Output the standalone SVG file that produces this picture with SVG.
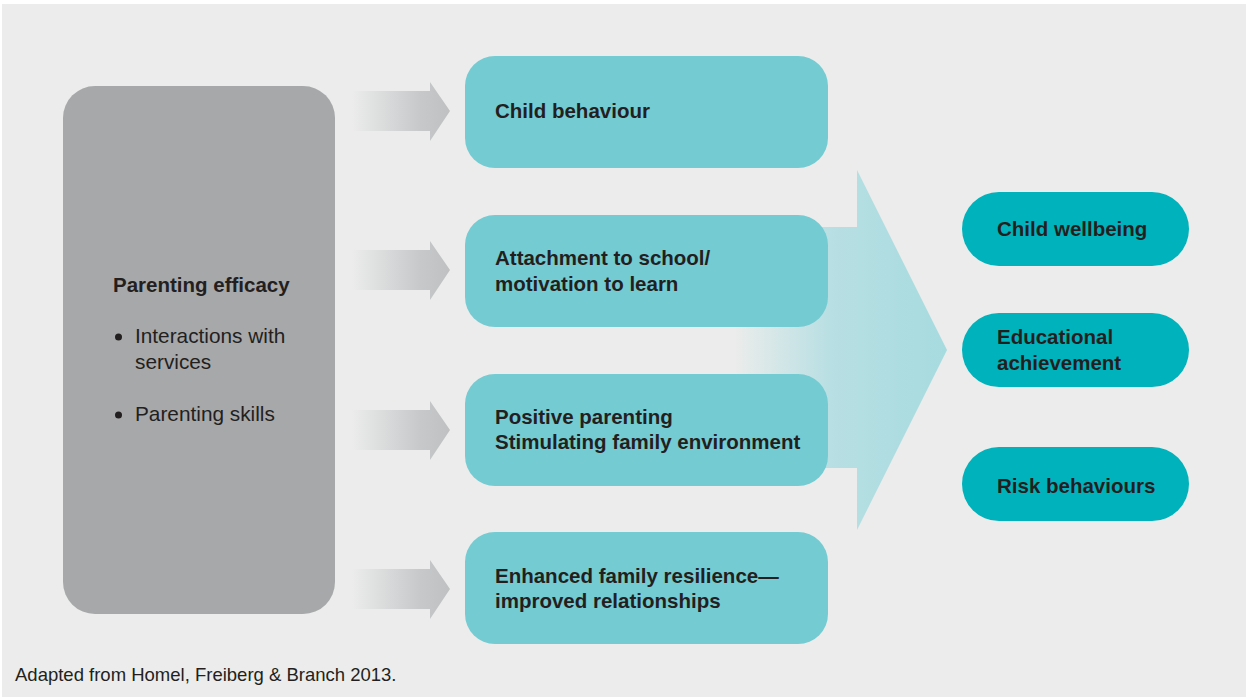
<svg xmlns="http://www.w3.org/2000/svg" width="1248" height="699" viewBox="0 0 1248 699">
  <style>
    .bold { font-family: "Liberation Sans", Arial, sans-serif; font-weight: bold; font-size: 20.5px; fill: #231f20; }
    .reg { font-family: "Liberation Sans", Arial, sans-serif; font-size: 20.8px; fill: #231f20; }
    .note { font-family: "Liberation Sans", Arial, sans-serif; font-size: 18.5px; fill: #231f20; }
    .mid { fill: #74cbd2; }
    .out { fill: #00b2bb; }
    .feed { fill: url(#feedGrad); }
  </style>
  <defs>
    <linearGradient id="feedGrad" gradientUnits="userSpaceOnUse" x1="352" y1="0" x2="450" y2="0">
      <stop offset="0" stop-color="#c3c4c6" stop-opacity="0"/>
      <stop offset="0.7" stop-color="#c3c4c6" stop-opacity="0.9"/>
      <stop offset="1" stop-color="#bfc0c2"/>
    </linearGradient>
    <linearGradient id="bigGrad" gradientUnits="userSpaceOnUse" x1="735" y1="0" x2="947" y2="0">
      <stop offset="0" stop-color="#b8dfe3" stop-opacity="0"/>
      <stop offset="0.45" stop-color="#b8dfe3"/>
      <stop offset="1" stop-color="#a6dbdf"/>
    </linearGradient>
  </defs>

  <!-- page -->
  <rect x="0" y="0" width="1248" height="699" fill="#ffffff"/>
  <rect x="2" y="4" width="1244" height="693" fill="#ebeceb"/>

  <!-- connectors -->
  <g id="connectors">
    <path id="arrow-outcomes" d="M735 227 H857 V170 L947 350 L857 530 V468 H735 Z" fill="url(#bigGrad)"/>
    <path id="arrow-1" class="feed" d="M352 91 H430 V82 L450 111 L430 141 V131 H352 Z"/>
    <path id="arrow-2" class="feed" d="M352 250 H430 V241 L450 270 L430 300 V290 H352 Z"/>
    <path id="arrow-3" class="feed" d="M352 410 H430 V401 L450 430 L430 460 V450 H352 Z"/>
    <path id="arrow-4" class="feed" d="M352 569 H430 V560 L450 589 L430 619 V609 H352 Z"/>
  </g>

  <!-- source -->
  <g id="parenting-efficacy">
    <rect x="63" y="86" width="272" height="528" rx="32" fill="#a7a8aa"/>
    <text class="bold" x="113" y="292">Parenting efficacy</text>
    <circle cx="118.5" cy="337" r="3.5" fill="#231f20"/>
    <text class="reg" x="135" y="343">Interactions with</text>
    <text class="reg" x="135" y="369">services</text>
    <circle cx="118.5" cy="415" r="3.5" fill="#231f20"/>
    <text class="reg" x="135" y="421">Parenting skills</text>
  </g>

  <!-- intermediate outcomes -->
  <g id="child-behaviour">
    <rect class="mid" x="465" y="56" width="363" height="112" rx="30"/>
    <text class="bold" x="495" y="118">Child behaviour</text>
  </g>
  <g id="attachment-to-school">
    <rect class="mid" x="465" y="215" width="363" height="112" rx="30"/>
    <text class="bold" x="495" y="265">Attachment to school/</text>
    <text class="bold" x="495" y="291">motivation to learn</text>
  </g>
  <g id="positive-parenting">
    <rect class="mid" x="465" y="374" width="363" height="112" rx="30"/>
    <text class="bold" x="495" y="424">Positive parenting</text>
    <text class="bold" x="495" y="449">Stimulating family environment</text>
  </g>
  <g id="family-resilience">
    <rect class="mid" x="465" y="532" width="363" height="112" rx="30"/>
    <text class="bold" x="495" y="583">Enhanced family resilience—</text>
    <text class="bold" x="495" y="608">improved relationships</text>
  </g>

  <!-- final outcomes -->
  <g id="child-wellbeing">
    <rect class="out" x="962" y="192" width="227" height="74" rx="37"/>
    <text class="bold" x="997" y="236">Child wellbeing</text>
  </g>
  <g id="educational-achievement">
    <rect class="out" x="962" y="313" width="227" height="74" rx="37"/>
    <text class="bold" x="997" y="344">Educational</text>
    <text class="bold" x="997" y="370">achievement</text>
  </g>
  <g id="risk-behaviours">
    <rect class="out" x="962" y="447" width="227" height="74" rx="37"/>
    <text class="bold" x="997" y="493">Risk behaviours</text>
  </g>

  <text class="note" x="15" y="681">Adapted from Homel, Freiberg &amp; Branch 2013.</text>
</svg>
